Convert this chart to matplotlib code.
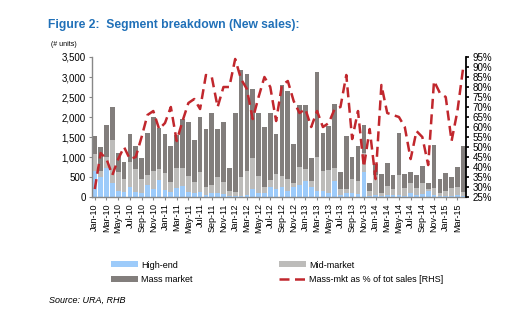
import numpy as np
import pandas as pd
from matplotlib import pyplot as plt
from matplotlib.patches import Patch
from matplotlib.lines import Line2D

plt.rcParams["font.family"] = ["Liberation Sans", "DejaVu Sans"]

months = pd.date_range("2010-01-01", "2015-04-01", freq="MS")
month_labels = [d.strftime("%b-%y") for d in months]

# new sales by segment (# units)
high_end = [650, 500, 720, 350, 150, 130, 250, 130, 100, 300,
            200, 420, 170, 130, 230, 280, 130, 100, 120, 60,
            100, 100, 80, 30, 20, 20, 50, 200, 100, 100,
            250, 200, 250, 150, 250, 300, 400, 250, 150, 150,
            100, 400, 50, 100, 100, 80, 620, 30, 50, 30,
            50, 40, 60, 30, 100, 40, 80, 150, 50, 20,
            30, 30, 40, 30]
mid_market = [430, 160, 290, 1080, 470, 310, 630, 570, 340, 240,
              440, 290, 430, 250, 500, 440, 400, 270, 500, 180,
              210, 410, 300, 110, 110, 485, 600, 770, 420, 160,
              170, 385, 280, 300, 110, 460, 310, 140, 850, 490,
              580, 320, 140, 110, 360, 330, 470, 120, 500, 80,
              230, 150, 500, 200, 250, 190, 270, 60, 170, 80,
              120, 200, 200, 100]
mass_market = [440, 580, 790, 810, 490, 440, 690, 580, 530, 1060,
               1360, 1010, 980, 900, 830, 1220, 1350, 1050, 1380, 1450,
               1790, 1180, 1500, 580, 1980, 2670, 2420, 1720, 1570, 1500,
               1690, 990, 2270, 2210, 960, 1540, 1590, 580, 2120, 950,
               1100, 1600, 430, 1320, 540, 870, 720, 210, 280, 470,
               570, 370, 1040, 350, 270, 310, 420, 140, 1080, 350,
               450, 270, 510, 1140]
# mass-market share of total sales (%)
mass_pct = [29, 47, 44, 36, 44, 50, 44, 45, 55, 66,
            68, 59, 62, 70, 53, 63, 72, 74, 69, 86,
            85, 70, 80, 80, 94, 84, 79, 64, 75, 85,
            80, 63, 81, 83, 73, 67, 69, 60, 68, 60,
            62, 69, 70, 86, 54, 68, 40, 59, 34, 81,
            67, 66, 65, 60, 44, 58, 55, 41, 83, 77,
            75, 53, 68, 90]

c_high = "#9DCBFA"
c_mid = "#BDBCBA"
c_mass = "#827E7C"
c_line = "#C1272D"

fig = plt.figure(figsize=(5.25, 3.22), dpi=100)
ax = fig.add_axes([0.175, 0.388, 0.713, 0.435])
x = np.arange(len(months))
high = np.array(high_end)
mid = np.array(mid_market)
mass = np.array(mass_market)

ax.bar(x, high, width=0.8, color=c_high, linewidth=0)
ax.bar(x, mid, width=0.8, bottom=high, color=c_mid, linewidth=0)
ax.bar(x, mass, width=0.8, bottom=high + mid, color=c_mass, linewidth=0)

ax.set_xlim(-0.5, len(months) - 0.5)
ax.set_ylim(0, 3500)
ax.set_yticks(np.arange(0, 3501, 500))
ax.set_yticklabels([f"{v:,}" for v in range(0, 3501, 500)], fontsize=7)
ax.set_xticks(x[::2])
ax.set_xticklabels(month_labels[::2], rotation=90, fontsize=6.5)
ax.tick_params(axis="both", length=2.5, width=0.8, color="#888888", pad=2)
for side in ["top", "right"]:
    ax.spines[side].set_visible(False)
for side in ["left", "bottom"]:
    ax.spines[side].set_color("#888888")
    ax.spines[side].set_linewidth(1.0)

ax2 = ax.twinx()
ax2.plot(x, mass_pct, color=c_line, linewidth=1.8, dashes=(4, 2.2))
ax2.set_ylim(25, 95)
ax2.set_yticks(range(25, 96, 5))
ax2.set_yticklabels([f"{v}%" for v in range(25, 96, 5)], fontsize=7)
ax2.tick_params(axis="y", length=2.5, width=1.2, color="black", pad=2)
for side in ["top", "left", "bottom"]:
    ax2.spines[side].set_visible(False)
ax2.spines["right"].set_color("black")
ax2.spines["right"].set_linewidth(1.3)

fig.text(0.092, 0.922, "Figure 2:  Segment breakdown (New sales):", fontsize=8.7,
         fontweight="bold", color="#2070B8", ha="left", va="center")
fig.text(0.098, 0.862, "(# units)", fontsize=5, ha="left", va="center")

handles = [
    Patch(facecolor=c_high, label="High-end"),
    Patch(facecolor=c_mass, label="Mass market"),
    Patch(facecolor=c_mid, label="Mid-market"),
    Line2D([0], [0], color=c_line, linewidth=1.8, dashes=(4, 2.2),
           label="Mass-mkt as % of tot sales [RHS]"),
]
fig.legend(handles=handles, ncol=2, loc="upper left", bbox_to_anchor=(0.203, 0.205),
           frameon=False, fontsize=6.5, handlelength=3.0, handleheight=0.6,
           handletextpad=0.3, columnspacing=9.6, labelspacing=0.65, borderpad=0)

fig.text(0.093, 0.068, "Source: URA, RHB", fontsize=6.5, style="italic", ha="left", va="center")

fig.savefig("out.png", dpi=100)
